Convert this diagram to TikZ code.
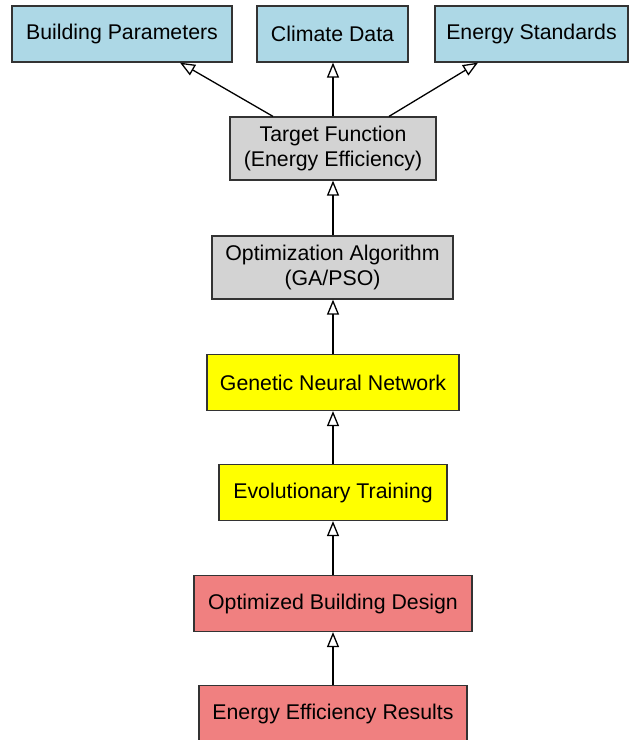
\documentclass[tikz,border=0pt]{standalone}
\usepackage{fontspec}
\setmainfont{Liberation Sans}
\usetikzlibrary{arrows.meta}
\definecolor{inblue}{RGB}{173,216,230}
\definecolor{optgray}{RGB}{211,211,211}
\definecolor{nnyellow}{RGB}{255,255,0}
\definecolor{outred}{RGB}{240,128,128}
\tikzset{
  box/.style={draw=black!80, line width=1.2pt, minimum height=56pt, inner sep=0pt,
    align=center, font=\fontsize{21.3}{25.5}\selectfont},
  inbox/.style={box, fill=inblue},
  optbox/.style={box, fill=optgray, minimum height=63pt},
  nnbox/.style={box, fill=nnyellow},
  outbox/.style={box, fill=outred},
  arrow/.style={line width=1.3pt, -{Triangle[open, length=15pt, width=12pt]}}
}
\begin{document}
\begin{tikzpicture}[x=1pt, y=-1pt]
		\useasboundingbox (0,0) rectangle (633,740);
		% inputs
		\node[inbox, minimum width=220pt] (bp) at (122,34) {Building Parameters};
		\node[inbox, minimum width=151pt] (cd) at (332.5,34) {Climate Data};
		\node[inbox, minimum width=193pt] (es) at (531.5,34) {Energy Standards};
		% optimization
		\node[optbox, minimum width=206pt] (tf) at (333,148.5) {Target Function\\(Energy Efficiency)};
		\node[optbox, minimum width=241pt] (oa) at (332.5,267.5) {Optimization Algorithm\\(GA/PSO)};
		% network
		\node[nnbox, minimum width=252pt] (gnn) at (333,382.5) {Genetic Neural Network};
		\node[nnbox, minimum width=228pt] (et) at (333,492.5) {Evolutionary Training};
		% results
		\node[outbox, minimum width=278pt] (obd) at (333,603.5) {Optimized Building Design};
		\node[outbox, minimum width=268pt] (eer) at (333,713.5) {Energy Efficiency Results};
		\draw[arrow] ([xshift=-60pt]tf.north) -- ([xshift=58pt]bp.south);
		\draw[arrow] (tf.north) -- (tf.north |- cd.south);
		\draw[arrow] ([xshift=56pt]tf.north) -- ([xshift=-53.5pt]es.south);
		\draw[arrow] (oa.north -| tf.south) -- (tf.south);
		\draw[arrow] (gnn.north) -- (gnn.north |- oa.south);
		\draw[arrow] (et) -- (gnn);
		\draw[arrow] (obd) -- (et);
		\draw[arrow] (eer) -- (obd);
	\end{tikzpicture}
\end{document}
